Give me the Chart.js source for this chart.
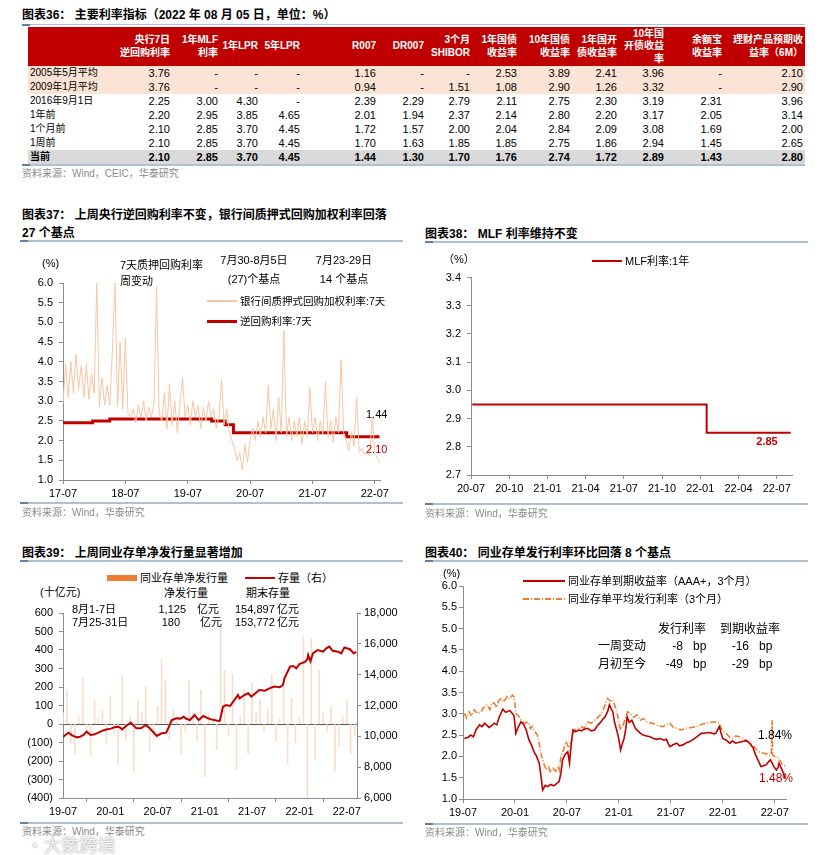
<!DOCTYPE html>
<html lang="zh">
<head>
<meta charset="UTF-8">
<title>主要利率指标</title>
<script src="https://cdn.jsdelivr.net/npm/chart.js"></script>
<style>
    body {
        margin: 0;
        width: 831px;
        height: 855px;
        position: relative;
        overflow: hidden;
        background: #fff;
        color: #000;
        font-family: "Liberation Sans", "Noto Sans CJK SC", sans-serif;
    }
    canvas { position: absolute; }
    .t { position: absolute; white-space: nowrap; line-height: 14px; font-size: 11px; }
    .title { font-size: 12px; font-weight: bold; }
    .src { font-size: 10px; color: #8a8a8a; }
    .ctr { transform: translateX(-50%); }
    .rgt { transform: translateX(-100%); }
    .rule { position: absolute; height: 2px; background: #AFC0D3; }
    .rule::before { content: ""; position: absolute; left: 0; top: 0; width: 8px; height: 2px; background: #5E7FA3; }
    .sw { position: absolute; }

    #tbl { position: absolute; left: 28px; top: 27px; width: 777px; border-collapse: collapse; table-layout: fixed; font-size: 11px; }
    #tbl th { background: #C00000; color: #fff; font-size: 10px; font-weight: bold; height: 39px; padding: 0; text-align: right; vertical-align: middle; line-height: 12.5px; }
    #tbl td { height: 14px; padding: 0; text-align: right; line-height: 14px; }
    #tbl td:first-child { text-align: left; padding-left: 2px; font-size: 10px; }
    #tbl th:last-child, #tbl td:last-child { padding-right: 2px; }
    #tbl tr.pink td { background: #FBE4D5; }
    #tbl tr.cur td { background: #D9D9D9; font-weight: bold; }
</style>
</head>
<body>

<!-- 图表36 -->
<div class="t title" style="left:22px;top:8px">图表36： 主要利率指标（2022 年 08 月 05 日，单位：%）</div>
<div class="rule" style="left:22px;top:24px;width:783px;height:1px"></div>
<table id="tbl"></table>
<div class="rule" style="left:22px;top:164px;width:783px"></div>
<div class="t src" style="left:22px;top:167px">资料来源：Wind，CEIC，华泰研究</div>

<!-- 图表37 -->
<div class="t title" style="left:22px;top:208px">图表37： 上周央行逆回购利率不变，银行间质押式回购加权利率回落</div>
<div class="t title" style="left:22px;top:226px">27 个基点</div>
<div class="rule" style="left:20px;top:240px;width:383px"></div>
<canvas id="c37" width="400" height="260" style="left:0;top:250px"></canvas>
<div class="t" style="left:42px;top:256px">(%)</div>
<div class="t" style="left:120px;top:258px">7天质押回购利率</div>
<div class="t" style="left:120px;top:274px">周变动</div>
<div class="t ctr" style="left:254px;top:253px">7月30-8月5日</div>
<div class="t ctr" style="left:254px;top:272px">(27)个基点</div>
<div class="t ctr" style="left:344px;top:253px">7月23-29日</div>
<div class="t ctr" style="left:344px;top:272px">14 个基点</div>
<div class="sw" style="left:207px;top:300px;width:30px;height:1.5px;background:#F7C6A3"></div>
<div class="t" style="left:240px;top:294px;font-size:10.5px">银行间质押式回购加权利率:7天</div>
<div class="sw" style="left:207px;top:320px;width:30px;height:3px;background:#C00000"></div>
<div class="t" style="left:240px;top:314px;font-size:10.5px">逆回购利率:7天</div>
<div class="t" style="left:366px;top:407px">1.44</div>
<div class="t" style="left:366px;top:442px;color:#C00000">2.10</div>
<div class="rule" style="left:20px;top:502px;width:383px"></div>
<div class="t src" style="left:22px;top:506px">资料来源：Wind，华泰研究</div>

<!-- 图表38 -->
<div class="t title" style="left:425px;top:227px">图表38： MLF 利率维持不变</div>
<div class="rule" style="left:425px;top:241px;width:383px"></div>
<canvas id="c38" width="410" height="240" style="left:410px;top:265px"></canvas>
<div class="t" style="left:443px;top:252px">（%）</div>
<div class="sw" style="left:592px;top:260px;width:30px;height:2px;background:#C00000"></div>
<div class="t" style="left:625px;top:254px">MLF利率:1年</div>
<div class="t ctr" style="left:767px;top:434px;color:#C00000;font-weight:bold">2.85</div>
<div class="rule" style="left:425px;top:503px;width:383px"></div>
<div class="t src" style="left:425px;top:507px">资料来源：Wind，华泰研究</div>

<!-- 图表39 -->
<div class="t title" style="left:22px;top:546px">图表39： 上周同业存单净发行量显著增加</div>
<div class="rule" style="left:20px;top:560px;width:383px"></div>
<canvas id="c39" width="410" height="220" style="left:0;top:600px"></canvas>
<div class="sw" style="left:107px;top:575px;width:30px;height:6px;background:#ED7D31"></div>
<div class="t" style="left:140px;top:571px">同业存单净发行量</div>
<div class="sw" style="left:245px;top:577px;width:30px;height:2px;background:#C00000"></div>
<div class="t" style="left:278px;top:571px">存量（右）</div>
<div class="t" style="left:40px;top:585px">(十亿元)</div>
<div class="t ctr" style="left:186px;top:586px">净发行量</div>
<div class="t ctr" style="left:268px;top:586px">期末存量</div>
<div class="t" style="left:72px;top:602px">8月1-7日</div>
<div class="t rgt" style="left:186px;top:602px">1,125</div>
<div class="t" style="left:197px;top:602px">亿元</div>
<div class="t" style="left:235px;top:602px">154,897</div>
<div class="t" style="left:277px;top:602px">亿元</div>
<div class="t" style="left:72px;top:615px">7月25-31日</div>
<div class="t rgt" style="left:180px;top:615px">180</div>
<div class="t" style="left:200px;top:615px">亿元</div>
<div class="t" style="left:235px;top:615px">153,772</div>
<div class="t" style="left:277px;top:615px">亿元</div>
<div class="rule" style="left:20px;top:822px;width:383px"></div>
<div class="t src" style="left:22px;top:825px">资料来源：Wind，华泰研究</div>
<div class="t" style="left:28px;top:836px;font-size:18px;line-height:20px;color:rgba(255,255,255,0.85);text-shadow:0 0 2px #888">◔ 大数跨境</div>

<!-- 图表40 -->
<div class="t title" style="left:425px;top:546px">图表40： 同业存单发行利率环比回落 8 个基点</div>
<div class="rule" style="left:425px;top:560px;width:383px"></div>
<canvas id="c40" width="410" height="250" style="left:410px;top:575px"></canvas>
<div class="t" style="left:443px;top:566px">(%)</div>
<div class="sw" style="left:523px;top:580px;width:42px;height:2px;background:#C00000"></div>
<div class="t" style="left:568px;top:574px">同业存单到期收益率（AAA+，3个月）</div>
<div class="sw" style="left:523px;top:598px;width:42px;height:2px;background:repeating-linear-gradient(90deg,#ED7D31 0 6px,transparent 6px 8px,#ED7D31 8px 9px,transparent 9px 11px)"></div>
<div class="t" style="left:568px;top:592px">同业存单平均发行利率（3个月）</div>
<div class="t" style="left:658px;top:622px;font-size:12px">发行利率</div>
<div class="t" style="left:720px;top:622px;font-size:12px">到期收益率</div>
<div class="t" style="left:598px;top:639px;font-size:12px">一周变动</div>
<div class="t rgt" style="left:683px;top:639px;font-size:12px">-8</div>
<div class="t" style="left:693px;top:639px;font-size:12px">bp</div>
<div class="t rgt" style="left:749px;top:639px;font-size:12px">-16</div>
<div class="t" style="left:759px;top:639px;font-size:12px">bp</div>
<div class="t" style="left:598px;top:657px;font-size:12px">月初至今</div>
<div class="t rgt" style="left:683px;top:657px;font-size:12px">-49</div>
<div class="t" style="left:693px;top:657px;font-size:12px">bp</div>
<div class="t rgt" style="left:749px;top:657px;font-size:12px">-29</div>
<div class="t" style="left:759px;top:657px;font-size:12px">bp</div>
<div class="t" style="left:758px;top:728px;font-size:12px">1.84%</div>
<div class="t" style="left:759px;top:771px;font-size:12px;color:#C00000">1.48%</div>
<div class="rule" style="left:425px;top:823px;width:383px"></div>
<div class="t src" style="left:425px;top:826px">资料来源：Wind，华泰研究</div>

<script>
    // ---------- 图表36 table ----------
    const tableHeaders = ['', '央行7日<br>逆回购利率', '1年MLF<br>利率', '1年LPR', '5年LPR', 'R007', 'DR007',
        '3个月<br>SHIBOR', '1年国债<br>收益率', '10年国债<br>收益率', '1年国开<br>债收益率', '10年国<br>开债收益<br>率',
        '余额宝<br>收益率', '理财产品预期收<br>益率（6M）'];
    const tableRowLabels = ['2005年5月平均', '2009年1月平均', '2016年9月1日', '1年前', '1个月前', '1周前', '当前'];
    const tableRows = [
        ['3.76', '-', '-', '-', '1.16', '-', '-', '2.53', '3.89', '2.41', '3.96', '-', '2.10'],
        ['3.76', '-', '-', '-', '0.94', '-', '1.51', '1.08', '2.90', '1.26', '3.32', '-', '2.90'],
        ['2.25', '3.00', '4.30', '-', '2.39', '2.29', '2.79', '2.11', '2.75', '2.30', '3.19', '2.31', '3.96'],
        ['2.20', '2.95', '3.85', '4.65', '2.01', '1.94', '2.37', '2.14', '2.80', '2.20', '3.17', '2.05', '3.14'],
        ['2.10', '2.85', '3.70', '4.45', '1.72', '1.57', '2.00', '2.04', '2.84', '2.09', '3.08', '1.69', '2.00'],
        ['2.10', '2.85', '3.70', '4.45', '1.70', '1.63', '1.85', '1.85', '2.75', '1.86', '2.94', '1.45', '2.65'],
        ['2.10', '2.85', '3.70', '4.45', '1.44', '1.30', '1.70', '1.76', '2.74', '1.72', '2.89', '1.43', '2.80']
    ];
    const colWidths = [82, 60, 48, 40, 42, 76, 48, 46, 47, 53, 47, 47, 58, 83];

    let html = '<colgroup>' + colWidths.map(w => '<col style="width:' + w + 'px">').join('') + '</colgroup>';
    html += '<tr>' + tableHeaders.map(h => '<th>' + h + '</th>').join('') + '</tr>';
    tableRows.forEach((row, i) => {
        const cls = i < 2 ? 'pink' : (i === tableRows.length - 1 ? 'cur' : '');
        html += '<tr class="' + cls + '"><td>' + tableRowLabels[i] + '</td>' + row.map(v => '<td>' + v + '</td>').join('') + '</tr>';
    });
    document.getElementById('tbl').innerHTML = html;

    // ---------- chart data ----------
    // 图表37: months since 2017-07
    const c37XTicks = [0, 12, 24, 36, 48, 60];
    const c37XLabels = ['17-07', '18-07', '19-07', '20-07', '21-07', '22-07'];
    const c37YTicks = [1.0, 1.5, 2.0, 2.5, 3.0, 3.5, 4.0, 4.5, 5.0, 5.5, 6.0];
    const repoStep = 0.5; // half-month samples
    const repoRates = [
        2.95, 3.95, 3.10, 4.00, 3.20, 4.20, 3.30, 3.90, 3.10, 3.95, 3.05, 3.70, 3.20, 6.00, 2.85, 3.60,
        2.90, 3.40, 2.90, 4.30, 6.00, 2.85, 4.50, 2.80, 4.60, 2.70, 2.60, 2.80, 2.45, 2.90, 2.60, 3.00,
        2.50, 2.85, 2.60, 2.90, 5.90, 2.70, 2.50, 3.20, 2.30, 3.45, 2.40, 3.00, 2.20, 2.90, 3.60, 2.60,
        2.90, 2.40, 3.00, 2.60, 2.90, 2.30, 2.85, 2.50, 3.00, 2.60, 2.80, 2.30, 2.60, 3.55, 2.40, 2.80,
        2.20, 2.00, 1.80, 1.50, 1.70, 1.25, 1.90, 1.45, 2.00, 2.30, 2.00, 2.50, 2.10, 2.60, 2.20, 3.40,
        2.30, 2.80, 2.00, 3.10, 2.20, 4.80, 2.10, 2.60, 2.00, 2.50, 2.10, 2.60, 1.90, 2.50, 2.10, 3.35,
        2.20, 2.60, 2.00, 2.50, 2.15, 3.50, 2.10, 2.50, 1.95, 2.60, 2.20, 4.05, 2.20, 2.00, 1.75, 2.20,
        1.85, 3.10, 1.70, 1.80, 1.65, 1.70, 1.60, 2.60, 1.70, 1.55, 1.44
    ];
    const reverseRepoMonths = [0, 5.7, 9.0, 28.6, 31.2, 32.8, 54.6, 60.9];
    const reverseRepoRates = [2.45, 2.50, 2.55, 2.50, 2.40, 2.20, 2.10, 2.10];

    // 图表38: months since 2020-07
    const c38XTicks = [0, 3, 6, 9, 12, 15, 18, 21, 24];
    const c38XLabels = ['20-07', '20-10', '21-01', '21-04', '21-07', '21-10', '22-01', '22-04', '22-07'];
    const c38YTicks = [2.7, 2.8, 2.9, 3.0, 3.1, 3.2, 3.3, 3.4];
    const mlfMonths = [0.1, 18.5, 25.1];
    const mlfRates = [2.95, 2.85, 2.85];

    // 图表39: months since 2019-07
    const c39XTicks = [0, 6, 12, 18, 24, 30, 36];
    const c39XLabels = ['19-07', '20-01', '20-07', '21-01', '21-07', '22-01', '22-07'];
    const c39YTicks = [-400, -300, -200, -100, 0, 100, 200, 300, 400, 500, 600];
    const c39Y1Ticks = [6000, 8000, 10000, 12000, 14000, 16000, 18000];
    const netIssueStep = 0.5;
    const netIssue = [
        60, 184, -105, -160, 40, 247, -60, -176, 130, 30, 76, -105, 148, -50, -216, 259,
        -80, 40, -263, 130, 60, 200, -150, -60, 94, 350, 238, -86, 76, 20, -160, -40,
        238, 60, -90, 184, -285, 50, 30, -140, 540, 290, -60, 270, -250, 40, 184, -160,
        220, 60, 130, -40, 80, 270, -90, 30, 260, -212, 140, -100, 40, 470, -410, 460,
        -195, 290, 60, -40, 94, -258, -120, 40, 130, -160, -60
    ];
    const stockMonths = [
        0.0, 0.3, 0.7, 1.2, 1.8, 2.2, 2.6, 3.0, 3.5, 3.9, 4.3, 5.0, 5.6, 6.1, 6.5, 7.1, 7.5, 8.0, 8.6, 9.3,
        9.9, 10.5, 11.0, 11.5, 11.9, 12.5, 13.1, 13.5, 13.8, 14.4, 14.9, 15.3, 15.7, 16.1, 16.7, 17.2, 17.8, 18.4,
        18.8, 19.3, 19.7, 19.9, 20.3, 20.7, 21.2, 21.8, 22.2, 22.4, 23.0, 23.5, 23.9, 24.3, 24.9, 25.6, 26.2,
        26.8, 27.5, 27.9, 28.1, 28.8, 29.2, 29.6, 30.0, 30.7, 31.0, 31.1, 31.4, 31.7, 32.3, 33.0, 33.4, 33.8,
        34.2, 34.9, 35.3, 35.7, 36.4, 36.9, 37.2
    ];
    const stockValues = [
        9950, 10087, 10237, 10050, 9935, 9980, 10087, 10302, 10087, 10120, 10195, 10366, 10453, 10500, 10583, 10625, 10453, 10670, 10886, 10518,
        10518, 10735, 10518, 10250, 10022, 10195, 10237, 10700, 11059, 11170, 11150, 11275, 11120, 11059, 11384, 11059, 11320, 11170,
        11100, 11050, 11000, 11020, 11922, 12032, 11970, 12400, 12680, 12460, 12680, 12790, 12570, 12740, 13005, 12960, 13115,
        13225, 13180, 13330, 13764, 14516, 14560, 14410, 14690, 14820, 15000, 15280, 14865, 15380, 15600, 15490, 15710, 15820,
        15550, 15490, 15380, 15760, 15650, 15380, 15490
    ];

    // 图表40: months since 2019-07
    const c40XTicks = [0, 6, 12, 18, 24, 30, 36];
    const c40XLabels = ['19-07', '20-01', '20-07', '21-01', '21-07', '22-01', '22-07'];
    const c40YTicks = [1.0, 1.5, 2.0, 2.5, 3.0, 3.5, 4.0, 4.5, 5.0, 5.5, 6.0];
    const ncdYieldMonths = [
        0.15, 0.6, 0.9, 1.2, 1.5, 1.9, 2.2, 2.5, 3.0, 3.3, 3.6, 3.9, 4.2, 4.6, 4.9, 5.1, 5.4, 5.7, 5.9, 6.1,
        6.4, 6.7, 7.0, 7.3, 7.6, 7.9, 8.2, 8.5, 8.8, 9.0, 9.2, 9.5, 9.8, 10.1, 10.5, 10.8, 11.1, 11.3, 11.5, 11.8,
        12.1, 12.3, 12.5, 12.7, 13.0, 13.4, 13.7, 14.0, 14.4, 14.8, 15.2, 15.5, 15.8, 16.1, 16.4, 16.7, 16.9, 17.1,
        17.3, 17.5, 17.8, 18.0, 18.2, 18.4, 18.6, 18.8, 18.95, 19.2, 19.5, 19.9, 20.2, 20.5, 20.8, 21.2, 21.6, 22.0,
        22.4, 22.8, 23.2, 23.5, 23.7, 23.9, 24.3, 24.7, 25.0, 25.4, 25.8, 26.2, 26.6, 27.0, 27.5, 28.0, 28.5, 29.0,
        29.2, 29.6, 29.8, 30.0, 30.4, 30.8, 31.1, 31.5, 31.9, 32.3, 32.7, 33.1, 33.5, 33.8, 34.1, 34.4, 34.7, 35.0,
        35.3, 35.5, 35.7, 35.9, 36.2, 36.4, 36.5, 36.8, 37.1, 37.2
    ];
    const ncdYield = [
        2.42, 2.45, 2.50, 2.46, 2.62, 2.74, 2.70, 2.78, 2.68, 2.72, 2.78, 2.74, 2.93, 3.11, 3.04, 3.05, 3.08, 3.01, 2.95, 2.54,
        2.70, 2.81, 2.75, 2.62, 2.40, 2.27, 2.11, 2.00, 1.84, 1.55, 1.21, 1.32, 1.29, 1.34, 1.31, 1.36, 1.41, 1.60, 1.92, 2.05,
        2.11, 1.84, 2.30, 2.62, 2.58, 2.62, 2.60, 2.64, 2.66, 2.60, 2.62, 2.72, 2.78, 2.86, 2.93, 3.05, 3.21, 3.12,
        3.05, 2.80, 2.58, 2.40, 2.15, 2.30, 2.42, 2.65, 2.93, 2.80, 2.85, 2.66, 2.60, 2.54, 2.50, 2.48, 2.46, 2.42,
        2.40, 2.42, 2.38, 2.40, 2.30, 2.23, 2.28, 2.31, 2.25, 2.27, 2.32, 2.35, 2.40, 2.46, 2.54, 2.55, 2.56, 2.53,
        2.54, 2.70, 2.55, 2.42, 2.38, 2.31, 2.36, 2.31, 2.33, 2.35, 2.37, 2.31, 2.20, 2.03, 1.90, 1.76, 1.78, 1.80,
        1.88, 1.92, 1.84, 1.76, 1.68, 1.75, 1.84, 1.70, 1.56, 1.48
    ];
    const ncdIssueMonths = [
        0.15, 0.4, 0.7, 1.0, 1.3, 1.7, 2.1, 2.4, 2.8, 3.1, 3.3, 3.6, 3.9, 4.1, 4.4, 4.7, 5.1, 5.4, 5.7, 5.9,
        6.1, 6.4, 6.7, 7.1, 7.5, 7.8, 8.0, 8.3, 8.6, 8.8, 9.0, 9.3, 9.6, 9.9, 10.1, 10.4, 10.7, 11.0, 11.1, 11.3,
        11.6, 11.9, 12.2, 12.5, 12.7, 12.9, 13.3, 13.7, 14.0, 14.4, 14.8, 15.2, 15.6, 16.0, 16.3, 16.7, 17.0, 17.3,
        17.6, 17.8, 18.0, 18.2, 18.5, 18.8, 19.0, 19.3, 19.7, 20.1, 20.5, 20.8, 21.3, 21.9, 22.5, 23.1, 23.5, 23.9,
        24.3, 24.7, 25.2, 25.8, 26.4, 27.0, 27.5, 28.1, 28.7, 29.2, 29.6, 29.9, 30.4, 30.8, 31.1, 31.5, 31.9, 32.3,
        32.7, 33.1, 33.4, 33.8, 34.2, 34.6, 35.0, 35.4, 35.6, 35.7, 35.75, 36.0, 36.3, 36.6, 36.9, 37.2
    ];
    const ncdIssue = [
        3.01, 2.90, 3.05, 2.95, 3.09, 3.00, 3.05, 3.15, 3.21, 3.10, 3.25, 3.25, 3.15, 3.30, 3.36, 3.28, 3.40, 3.34, 3.44, 3.40,
        3.00, 2.95, 2.85, 2.78, 2.81, 2.65, 2.70, 2.58, 2.50, 2.30, 2.07, 1.85, 1.68, 1.75, 1.62, 1.72, 1.65, 1.78, 1.68, 1.99,
        2.15, 2.35, 2.20, 2.31, 2.55, 2.62, 2.65, 2.70, 2.66, 2.81, 2.78, 2.85, 2.92, 3.01, 3.15, 3.36, 3.30, 3.33,
        3.15, 3.01, 2.80, 2.62, 2.75, 2.93, 3.05, 3.01, 2.92, 2.97, 2.85, 2.89, 2.80, 2.78, 2.72, 2.70, 2.75, 2.78,
        2.68, 2.66, 2.62, 2.66, 2.68, 2.70, 2.75, 2.78, 2.80, 2.81, 2.78, 2.62, 2.54, 2.45, 2.42, 2.48, 2.46, 2.42,
        2.38, 2.32, 2.27, 2.18, 2.11, 2.08, 2.06, 2.02, 2.04, 2.85, 2.03, 2.00, 1.98, 1.90, 1.80, 1.78
    ];

    // ---------- helpers ----------
    const RED = '#C00000';
    const AXIS = '#8c8c8c';
    Chart.defaults.font.family = '"Liberation Sans", "Noto Sans CJK SC", sans-serif';
    Chart.defaults.font.size = 11;
    Chart.defaults.color = '#000';

    const pairs = (xs, ys) => ys.map((y, i) => ({ x: xs[i], y: y }));

    function monthAxis(ticks, labels, max, height) {
        return {
            type: 'linear', min: 0, max: max, offset: false,
            afterBuildTicks: axis => { axis.ticks = ticks.map(v => ({ value: v })); },
            afterFit: axis => { axis.height = height; },
            ticks: { callback: (v, i) => labels[i], autoSkip: false, maxRotation: 0, padding: 3 },
            grid: { drawOnChartArea: false, tickLength: 4, color: AXIS },
            border: { color: AXIS }
        };
    }

    function valueAxis(ticks, width, fmt, position, pad) {
        return {
            type: 'linear', position: position || 'left',
            min: ticks[0], max: ticks[ticks.length - 1],
            afterBuildTicks: axis => { axis.ticks = ticks.map(v => ({ value: v })); },
            afterFit: axis => { axis.width = width; },
            ticks: { callback: fmt, padding: pad === undefined ? 6 : pad },
            grid: { drawOnChartArea: false, tickLength: 4, color: AXIS },
            border: { color: AXIS }
        };
    }

    const baseOptions = (padTop, padRight) => ({
        responsive: false,
        animation: false,
        devicePixelRatio: 1,
        layout: { padding: { top: padTop, right: padRight, left: 0, bottom: 0 } },
        plugins: { legend: { display: false }, tooltip: { enabled: false } },
        elements: { point: { radius: 0 }, line: { tension: 0 } }
    });

    // ---------- 图表37 ----------
    new Chart(document.getElementById('c37'), {
        type: 'line',
        data: {
            datasets: [{
                data: repoRates.map((v, i) => ({ x: i * repoStep, y: v })),
                borderColor: '#F7C6A3', borderWidth: 1
            }, {
                data: pairs(reverseRepoMonths, reverseRepoRates),
                borderColor: RED, borderWidth: 3, stepped: true
            }]
        },
        options: Object.assign(baseOptions(33, 20), {
            scales: {
                x: monthAxis(c37XTicks, c37XLabels, 61, 30),
                y: valueAxis(c37YTicks, 63, v => v.toFixed(1))
            }
        })
    });

    // ---------- 图表38 ----------
    new Chart(document.getElementById('c38'), {
        type: 'line',
        data: {
            datasets: [{
                data: pairs(mlfMonths, mlfRates),
                borderColor: RED, borderWidth: 2, stepped: true
            }]
        },
        options: Object.assign(baseOptions(11, 28), {
            scales: {
                x: monthAxis(c38XTicks, c38XLabels, 25.2, 30),
                y: valueAxis(c38YTicks, 61, v => v.toFixed(1))
            }
        })
    });

    // ---------- 图表39 ----------
    const c39Left = valueAxis(c39YTicks, 63, v => v < 0 ? '(' + (-v) + ')' : String(v), 'left', 6);
    c39Left.grid = {
        drawOnChartArea: true, tickLength: 4, tickColor: AXIS,
        color: ctx => (ctx.tick && ctx.tick.value === 0) ? '#555' : 'rgba(0,0,0,0)'
    };
    new Chart(document.getElementById('c39'), {
        type: 'bar',
        data: {
            datasets: [{
                type: 'line', order: 0, yAxisID: 'y1',
                data: pairs(stockMonths, stockValues),
                borderColor: RED, borderWidth: 2
            }, {
                type: 'bar', order: 1, yAxisID: 'y',
                data: netIssue.map((v, i) => ({ x: i * netIssueStep, y: v })),
                backgroundColor: '#F9DDCB', barThickness: 1
            }]
        },
        options: Object.assign(baseOptions(13, 0), {
            scales: {
                x: monthAxis(c39XTicks, c39XLabels, 37.3, 22),
                y: c39Left,
                y1: valueAxis(c39Y1Ticks, 53, v => v.toLocaleString('en-US'), 'right', 3)
            }
        })
    });

    // ---------- 图表40 ----------
    new Chart(document.getElementById('c40'), {
        type: 'line',
        data: {
            datasets: [{
                data: pairs(ncdYieldMonths, ncdYield),
                borderColor: RED, borderWidth: 1.6
            }, {
                data: pairs(ncdIssueMonths, ncdIssue),
                borderColor: '#ED7D31', borderWidth: 1.6, borderDash: [6, 2, 1, 2]
            }]
        },
        options: Object.assign(baseOptions(11, 34), {
            scales: {
                x: monthAxis(c40XTicks, c40XLabels, 37.3, 26),
                y: valueAxis(c40YTicks, 53, v => v.toFixed(1), 'left', 2)
            }
        })
    });
</script>
</body>
</html>
